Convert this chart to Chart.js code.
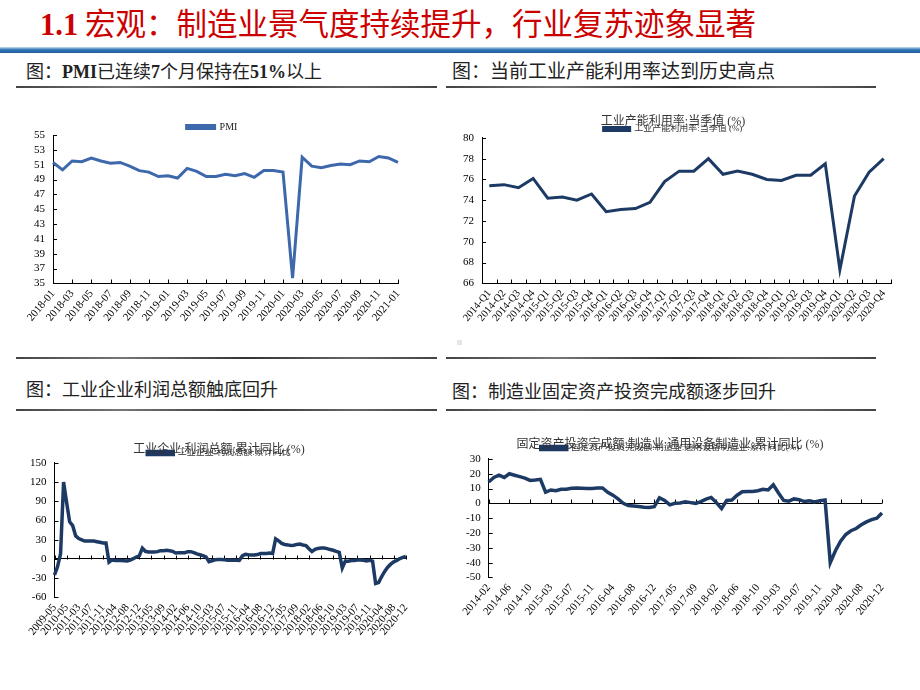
<!DOCTYPE html>
<html lang="zh">
<head>
<meta charset="utf-8">
<script src="https://cdn.jsdelivr.net/npm/chart.js@4.4.1/dist/chart.umd.min.js"></script>
<style>
body { margin: 0; width: 920px; height: 690px; background: #fff; position: relative; overflow: hidden;
       font-family: "Liberation Serif", "Noto Sans CJK SC", serif; }
.abs { position: absolute; white-space: nowrap; }
#title { left: 40px; top: 3px; font-size: 30.5px; line-height: 38px; color: #cc0000; font-family: "Noto Sans CJK SC", sans-serif; }
#title b { font-family: "Liberation Serif", serif; }
#band { left: 0; top: 47px; width: 920px; height: 6px; background: linear-gradient(#c9dff2, #2e75b6 45%, #245f9c); }
.cap { font-size: 18px; line-height: 22px; color: #222; font-family: "Noto Sans CJK SC", sans-serif; }
.cap b { font-family: "Liberation Serif", serif; }
.rule { height: 2px; background: linear-gradient(to right, #444, #777 25%, #333 55%, #666 80%, #444); }
canvas { position: absolute; }
</style>
</head>
<body>
<div id="title" class="abs"><b>1.1</b> 宏观：制造业景气度持续提升，行业复苏迹象显著</div>
<div id="band" class="abs"></div>

<div class="abs cap" style="left:26px; top:59px;">图：<b>PMI</b>已连续<b>7</b>个月保持在<b>51%</b>以上</div>
<div class="abs cap" style="left:452px; top:59px; font-size:19px;">图：当前工业产能利用率达到历史高点</div>
<div class="abs rule" style="left:16px; top:86px; width:421px;"></div>
<div class="abs rule" style="left:446px; top:86px; width:430px;"></div>

<div class="abs rule" style="left:16px; top:357px; width:421px;"></div>
<div class="abs rule" style="left:446px; top:357px; width:430px;"></div>
<div class="abs cap" style="left:26px; top:377px;">图：工业企业利润总额触底回升</div>
<div class="abs cap" style="left:452px; top:379px;">图：制造业固定资产投资完成额逐步回升</div>
<div class="abs rule" style="left:16px; top:409px; width:421px;"></div>
<div class="abs rule" style="left:446px; top:409px; width:430px;"></div>
<div class="abs" style="left:457px; top:340px; width:5px; height:5px; background:#e6e6e6;"></div>

<canvas id="pmiChart" width="400" height="235" style="left:20px; top:108px;"></canvas>
<canvas id="capChart" width="460" height="228" style="left:445px; top:110px;"></canvas>
<canvas id="profitChart" width="410" height="215" style="left:10px; top:437px;"></canvas>
<canvas id="faiChart" width="460" height="200" style="left:440px; top:432px;"></canvas>

<script>
// PMI, monthly
const pmiLabels = ['2018-01', '2018-02', '2018-03', '2018-04', '2018-05', '2018-06', '2018-07', '2018-08', '2018-09', '2018-10', '2018-11', '2018-12',
    '2019-01', '2019-02', '2019-03', '2019-04', '2019-05', '2019-06', '2019-07', '2019-08', '2019-09', '2019-10', '2019-11', '2019-12',
    '2020-01', '2020-02', '2020-03', '2020-04', '2020-05', '2020-06', '2020-07', '2020-08', '2020-09', '2020-10', '2020-11', '2020-12',
    '2021-01'];
const pmiValues = [51.3, 50.3, 51.5, 51.4, 51.9, 51.5, 51.2, 51.3, 50.8, 50.2, 50.0, 49.4,
    49.5, 49.2, 50.5, 50.1, 49.4, 49.4, 49.7, 49.5, 49.8, 49.3, 50.2, 50.2,
    50.0, 35.7, 52.0, 50.8, 50.6, 50.9, 51.1, 51.0, 51.5, 51.4, 52.1, 51.9,
    51.3];

// capacity utilisation, quarterly
const capLabels = ['2014-Q1', '2014-Q2', '2014-Q3', '2014-Q4', '2015-Q1', '2015-Q2', '2015-Q3', '2015-Q4',
    '2016-Q1', '2016-Q2', '2016-Q3', '2016-Q4', '2017-Q1', '2017-Q2', '2017-Q3', '2017-Q4',
    '2018-Q1', '2018-Q2', '2018-Q3', '2018-Q4', '2019-Q1', '2019-Q2', '2019-Q3', '2019-Q4',
    '2020-Q1', '2020-Q2', '2020-Q3', '2020-Q4'];
const capValues = [75.4, 75.5, 75.2, 76.1, 74.2, 74.3, 74.0, 74.6,
    72.9, 73.1, 73.2, 73.8, 75.8, 76.8, 76.8, 78.0,
    76.5, 76.8, 76.5, 76.0, 75.9, 76.4, 76.4, 77.5,
    67.3, 74.4, 76.7, 78.0];

// month labels without January (Jan-Feb is reported together)
function monthsNoJan(y0, m0, y1, m1) {
    const out = [];
    for (let y = y0; y <= y1; y++) {
        for (let m = 2; m <= 12; m++) {
            if ((y === y0 && m < m0) || (y === y1 && m > m1)) continue;
            out.push(y + '-' + String(m).padStart(2, '0'));
        }
    }
    return out;
}

// industrial profits, cumulative yoy
const profitLabels = ['2009-05', '2009-08', '2009-11', '2010-02', '2010-05', '2010-08', '2010-10', '2010-12']
    .concat(monthsNoJan(2011, 3, 2020, 12));
const profitValues = [-25, -12, 8, 120, 88, 58, 52, 36,
    32, 30, 28, 28, 28, 28, 27, 26, 25, 25,
    -5, -1.5, -2.2, -2.4, -2.2, -2.7, -3.1, -1.8, 0.5, 3, 5,
    17, 12, 11, 11, 11, 11.5, 13, 13, 13.5, 13, 12,
    9.4, 9.6, 9.6, 9.8, 11.4, 11.4, 10, 7.9, 6.7, 5.3, 3.3,
    -4.2, -2.7, -1.3, -0.8, -0.7, -1, -1.9, -1.7, -2, -1.9, -2.3,
    4.8, 7.4, 6.5, 6.4, 6.2, 6.9, 8.4, 8.4, 8.6, 9.4, 8.5,
    31.5, 28.3, 24.4, 22.7, 22, 21.1, 21.6, 22.8, 23.3, 21.9, 21,
    16.1, 11.6, 15, 16.5, 17.2, 17.1, 16.2, 14.7, 13.6, 11.8, 10.3,
    -14, -3.3, -3.4, -2.3, -2.4, -1.7, -1.7, -2.1, -2.9, -2.1, -3.3,
    -38.3, -36.7, -27.4, -19.3, -12.8, -8.1, -4.4, -2.4, 0.7, 2.4, 4.1];

// FAI general equipment manufacturing, cumulative yoy
const faiLabels = monthsNoJan(2014, 2, 2020, 12);
const faiValues = [14.4, 17.5, 19, 17.5, 20, 19, 18, 17, 15.5, 15.8, 16.2,
    7.5, 9, 8.5, 9.5, 9.5, 10.2, 10.3, 10.2, 10.1, 10.1, 10.3,
    10.4, 7.5, 5.5, 3, 0, -1.5, -1.8, -2.2, -2.6, -2.8, -2.3,
    3.8, 2, -1, 0, 0.2, 1, 0.5, 0, 1.2, 2.8, 4,
    0.5, -3.5, 2, 2.3, 5.5, 7.8, 8, 8, 8.5, 9.5, 9,
    12.5, 7, 2, 1.5, 3, 2.5, 1.2, 1.7, 1, 1.8, 2.3,
    -40, -32, -25.5, -21, -18.5, -17, -14.5, -12.5, -11, -10, -6.5];

const serif = '"Liberation Serif", "Noto Sans CJK SC", serif';
Chart.defaults.font.family = serif;
Chart.defaults.color = '#000';

// small tick marks pointing into the plot, like the source charts
const innerTicks = {
    id: 'innerTicks',
    beforeDatasetsDraw(chart, args, opts) {
        if (!opts.step) return;
        const ctx = chart.ctx;
        const x = chart.scales.x, y = chart.scales.y;
        const n = chart.data.labels.length;
        const baseY = Math.round(y.getPixelForValue(opts.base)) + 0.5;
        const half = opts.between ? (x.getPixelForValue(1) - x.getPixelForValue(0)) / 2 : 0;
        ctx.save();
        ctx.strokeStyle = '#000';
        ctx.lineWidth = 1;
        ctx.beginPath();
        for (let i = 0; i < n; i += opts.step) {
            const px = Math.round(x.getPixelForValue(i) - half) + 0.5;
            ctx.moveTo(px, baseY);
            ctx.lineTo(px, baseY - 4);
        }
        if (opts.between) {
            const px = Math.round(x.getPixelForValue(n - 1) + half) + 0.5;
            ctx.moveTo(px, baseY);
            ctx.lineTo(px, baseY - 4);
        }
        y.ticks.forEach(t => {
            const py = Math.round(y.getPixelForValue(t.value)) + 0.5;
            ctx.moveTo(x.left, py);
            ctx.lineTo(x.left + 4, py);
        });
        ctx.stroke();
        ctx.restore();
    }
};
Chart.register(innerTicks);

function lineChart(id, labels, values, o) {
    return new Chart(document.getElementById(id), {
        type: 'line',
        data: {
            labels: labels,
            datasets: [{
                label: o.legend,
                data: values,
                borderColor: o.color,
                backgroundColor: o.color,
                borderWidth: o.width || 3,
                pointRadius: 0,
                tension: 0
            }]
        },
        options: {
            responsive: false,
            animation: false,
            layout: { padding: o.padding },
            plugins: {
                title: o.title ? {
                    display: true,
                    text: o.title,
                    color: '#333',
                    font: { size: 12, weight: 'normal' },
                    padding: { top: o.titleTop || 0, bottom: o.titleGap }
                } : { display: false },
                legend: {
                    maxHeight: o.legendH,
                    labels: {
                        boxWidth: o.boxWidth || 26,
                        boxHeight: 3,
                        padding: 0,
                        color: o.legendColor || '#333',
                        font: { size: o.legendSize || 9 }
                    }
                },
                tooltip: { enabled: false },
                innerTicks: o.ticks
            },
            scales: {
                x: {
                    offset: !!o.offset,
                    grid: { display: false, drawTicks: false },
                    border: { display: !o.zeroLine, color: '#000' },
                    ticks: {
                        autoSkip: false,
                        minRotation: 50,
                        maxRotation: 50,
                        padding: 4,
                        font: { size: o.xSize || 11 },
                        callback: (v, i) => i % o.every === 0 ? labels[i] : null
                    }
                },
                y: {
                    min: o.min,
                    max: o.max,
                    grid: o.zeroLine ? {
                        drawTicks: false,
                        color: c => c.tick && c.tick.value === 0 ? '#000' : 'rgba(0,0,0,0)'
                    } : { display: false, drawTicks: false },
                    border: { display: true, color: '#000' },
                    ticks: { stepSize: o.step, autoSkip: false, padding: 8, font: { size: 11 } }
                }
            }
        }
    });
}

window.onload = function () {
    lineChart('pmiChart', pmiLabels, pmiValues, {
        legend: 'PMI', color: '#3e68ac', min: 35, max: 55, step: 2, every: 2,
        legendSize: 10, legendColor: '#222', boxWidth: 28, legendH: 13,
        padding: { left: 6, right: 22, top: 14, bottom: 15 },
        ticks: { step: 2, base: 35 }
    });
    lineChart('capChart', capLabels, capValues, {
        legend: '工业产能利用率:当季值 (%)', title: '工业产能利用率:当季值 (%)', titleTop: 5, titleGap: -5,
        legendH: 13.5, xSize: 10.5,
        color: '#1c3a64', min: 66, max: 80, step: 2, every: 1, offset: true,
        padding: { left: 10, right: 14, top: 0, bottom: 10 },
        ticks: { step: 1, base: 66, between: true }
    });
    lineChart('profitChart', profitLabels, profitValues, {
        legend: '工业企业:利润总额:累计同比', title: '工业企业:利润总额:累计同比 (%)', titleTop: 6, titleGap: -9,
        legendH: 14.5,
        color: '#1c3a64', width: 3.5, min: -60, max: 150, step: 30, every: 4, zeroLine: true,
        padding: { left: 12, right: 4, top: 0, bottom: 10 },
        ticks: { step: 4, base: 0 }
    });
    lineChart('faiChart', faiLabels, faiValues, {
        legend: '固定资产投资完成额:制造业:通用设备制造业:累计同比(%)',
        title: '固定资产投资完成额:制造业:通用设备制造业:累计同比 (%)', titleTop: 6, titleGap: -9,
        legendH: 15.5,
        color: '#1c3a64', width: 3.5, min: -50, max: 30, step: 10, every: 4, zeroLine: true,
        padding: { left: 18, right: 18, top: 0, bottom: 10 },
        ticks: { step: 4, base: 0 }
    });
};
</script>
</body>
</html>
